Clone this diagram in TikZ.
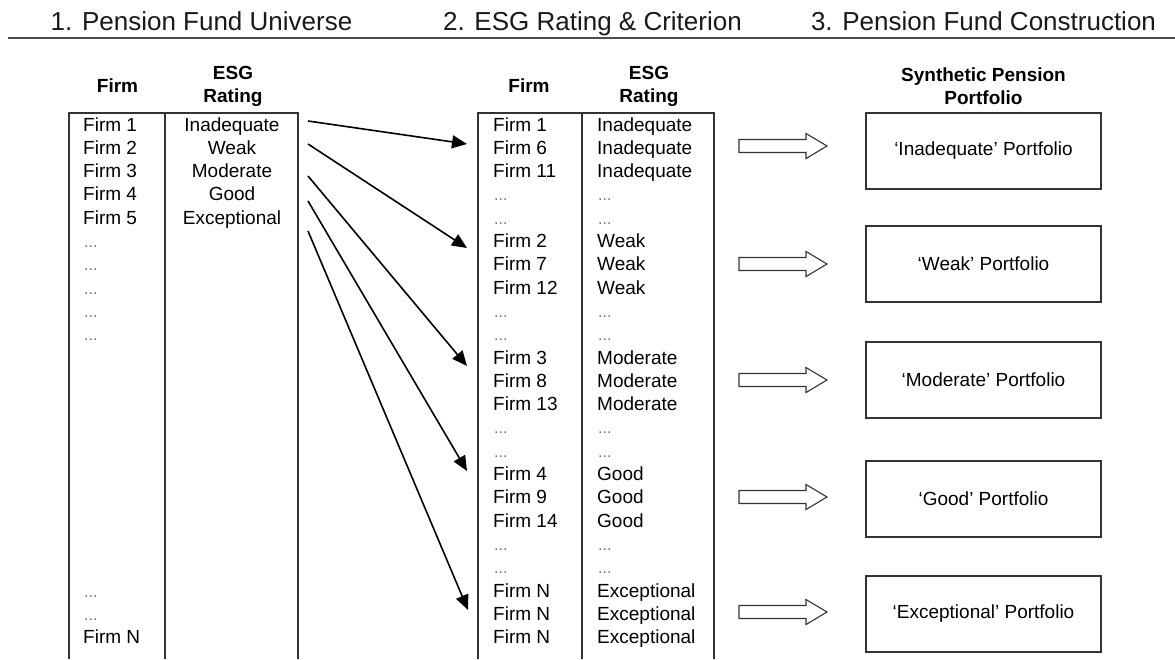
\documentclass[tikz,border=0pt]{standalone}
\usepackage{fontspec}
\setmainfont{Liberation Sans}
\usetikzlibrary{arrows.meta}
\newcommand{\dd}{{\fontsize{16}{16}\selectfont\color{black!55}...}}
\begin{document}
\begin{tikzpicture}[x=1pt,y=-1pt,
  heading/.style={anchor=base,inner sep=0pt,font=\fontsize{26}{30}\selectfont,text=black!90},
  colhead/.style={align=center,inner sep=0pt,font=\fontsize{19}{23}\selectfont\bfseries},
  cell/.style={inner sep=0pt,font=\fontsize{19}{23}\selectfont},
  tableline/.style={draw=black!80,line width=1.2pt},
  rule/.style={draw=black!70,line width=1.5pt},
  maparrow/.style={draw=black,line width=1.6pt,-{Triangle[length=15pt,width=13pt]}},
  hollowarrow/.style={draw=black!80,line width=1.1pt,fill=white},
  portbox/.style={draw=black!80,line width=1.2pt,minimum width=235pt,minimum height=76pt,inner sep=0pt,font=\fontsize{19}{23}\selectfont}
]
\useasboundingbox (0,0) rectangle (1175,659);
% headings
\node[heading] (h1) at (201.5,30) {1. Pension Fund Universe};
\node[heading] (h2) at (592.5,30) {2. ESG Rating \& Criterion};
\node[heading] (h3) at (983.5,30) {3. Pension Fund Construction};
\coordinate (ruleL) at (8,38);
\coordinate (ruleR) at (1175,38);
\draw[rule] (ruleL) -- (ruleR);
% column headers
\node[colhead] (lfirmh) at (117.5,86) {Firm};
\node[colhead] (lrateh) at (233,86) {ESG\\Rating};
\node[colhead] (mfirmh) at (529,86) {Firm};
\node[colhead] (mrateh) at (649,86) {ESG\\Rating};
\node[colhead] (ph) at (983.5,86) {Synthetic Pension\\Portfolio};
% left table frame
\coordinate (lA) at (69,659); \coordinate (lB) at (69,113);
\coordinate (lC) at (298,113); \coordinate (lD) at (298,659);
\coordinate (lE) at (165,113); \coordinate (lF) at (165,659);
\draw[tableline] (lA) -- (lB) -- (lC) -- (lD);
\draw[tableline] (lE) -- (lF);
% middle table frame
\coordinate (mA) at (478,659); \coordinate (mB) at (478,113);
\coordinate (mC) at (714,113); \coordinate (mD) at (714,659);
\coordinate (mE) at (582,113); \coordinate (mF) at (582,659);
\draw[tableline] (mA) -- (mB) -- (mC) -- (mD);
\draw[tableline] (mE) -- (mF);
% left table content
\foreach \k/\f/\r in {0/Firm 1/Inadequate,1/Firm 2/Weak,2/Firm 3/Moderate,3/Firm 4/Good,4/Firm 5/Exceptional}{
  \node[cell,anchor=base west] (lf\k) at (83,131+23.3*\k) {\f};
  \node[cell,anchor=base] (lr\k) at (232,131+23.3*\k) {\r};
}
\foreach \k in {5,...,9,20,21}{
  \node[cell,anchor=base west] (lf\k) at (84,131+23.3*\k) {\dd};
}
\node[cell,anchor=base west] (lf22) at (83,131+23.3*22) {Firm N};
% middle table content
\foreach \k/\f/\r in {0/Firm 1/Inadequate,1/Firm 6/Inadequate,2/Firm 11/Inadequate,
  5/Firm 2/Weak,6/Firm 7/Weak,7/Firm 12/Weak,
  10/Firm 3/Moderate,11/Firm 8/Moderate,12/Firm 13/Moderate,
  15/Firm 4/Good,16/Firm 9/Good,17/Firm 14/Good,
  20/Firm N/Exceptional,21/Firm N/Exceptional,22/Firm N/Exceptional}{
  \node[cell,anchor=base west] (mf\k) at (493,131+23.3*\k) {\f};
  \node[cell,anchor=base west] (mr\k) at (597,131+23.3*\k) {\r};
}
\foreach \k in {3,4,8,9,13,14,18,19}{
  \node[cell,anchor=base west] (mf\k) at (494,131+23.3*\k) {\dd};
  \node[cell,anchor=base west] (mr\k) at (598,131+23.3*\k) {\dd};
}
% mapping arrows
\coordinate (s1) at (308,121); \coordinate (t1) at (467,144);
\coordinate (s2) at (308,144); \coordinate (t2) at (467,248);
\coordinate (s3) at (308,176); \coordinate (t3) at (467,366);
\coordinate (s4) at (308,201); \coordinate (t4) at (467,471);
\coordinate (s5) at (308,231); \coordinate (t5) at (468,610);
\foreach \i in {1,...,5}{\draw[maparrow] (s\i) -- (t\i);}
% portfolio boxes
\node[portbox] (p1) at (983.5,151) {‘Inadequate’ Portfolio};
\node[portbox] (p2) at (983.5,264) {‘Weak’ Portfolio};
\node[portbox] (p3) at (983.5,380) {‘Moderate’ Portfolio};
\node[portbox] (p4) at (983.5,499) {‘Good’ Portfolio};
\node[portbox] (p5) at (983.5,614) {‘Exceptional’ Portfolio};
% hollow arrows
\foreach \i/\y in {1/146,2/264,3/380,4/497,5/612}{
  \coordinate (ha\i) at (739,\y);
  \draw[hollowarrow,shift={(ha\i)}] (0,-6.5) -- (67,-6.5) -- (67,-12.5) -- (88,0) -- (67,12.5) -- (67,6.5) -- (0,6.5) -- cycle;
}
\end{tikzpicture}
\end{document}
